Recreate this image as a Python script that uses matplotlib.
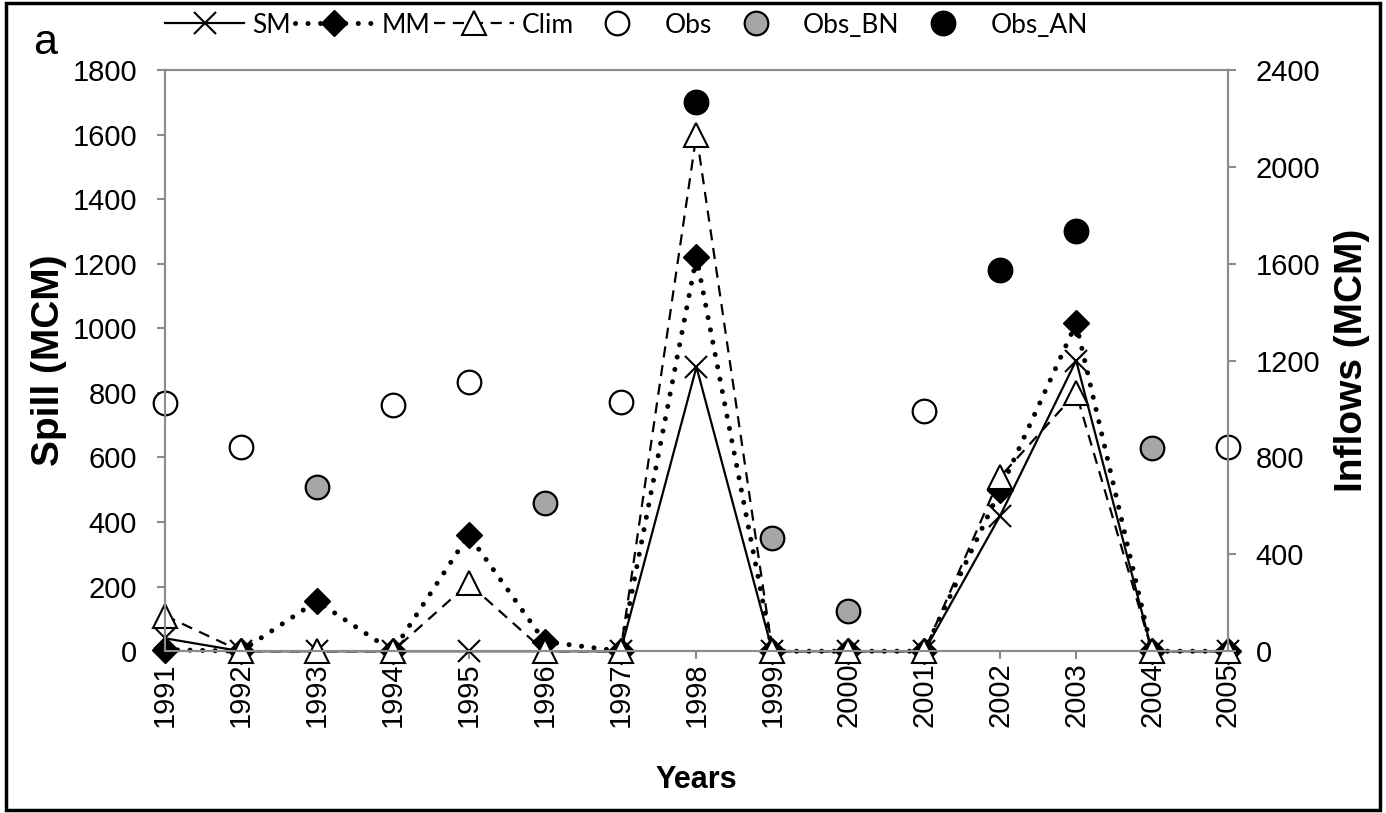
import matplotlib
matplotlib.use("Agg")
import matplotlib.pyplot as plt
from matplotlib.patches import Rectangle

# Spill (MCM) per year for the three forecast schemes
years = [1991, 1992, 1993, 1994, 1995, 1996, 1997, 1998, 1999, 2000,
         2001, 2002, 2003, 2004, 2005]
sm = [40, 0, 0, 0, 0, 0, 0, 880, 0, 0, 0, 420, 900, 0, 0]
mm = [5, 0, 155, 0, 360, 30, 0, 1220, 0, 0, 0, 500, 1015, 0, 0]
clim = [110, 0, 0, 0, 210, 0, 0, 1600, 0, 0, 0, 540, 800, 0, 0]

# Observed inflows (MCM), split by category
obs_years = [1991, 1992, 1994, 1995, 1997, 2001, 2005]
obs = [1025, 845, 1015, 1113, 1030, 990, 845]
bn_years = [1993, 1996, 1999, 2000, 2004]
obs_bn = [677, 610, 467, 167, 840]
an_years = [1998, 2002, 2003]
obs_an = [2267, 1573, 1733]

GRAY = "#8c8c8c"
plt.rcParams["font.family"] = ["Liberation Sans", "DejaVu Sans"]

fig = plt.figure(figsize=(13.86, 8.13), dpi=100)
ax = fig.add_axes([0.119, 0.199, 0.767, 0.715])
ax2 = ax.twinx()

l1, = ax.plot(years, sm, color="black", lw=1.6, marker="x", ms=16,
              mew=1.5, clip_on=False, zorder=3, label="SM")
l2, = ax.plot(years, mm, color="black", lw=3.6, linestyle=(0, (0.01, 2.5)),
              dash_capstyle="round", marker="D", ms=13, mfc="black",
              clip_on=False, zorder=4, label="MM")
l3, = ax.plot(years, clim, color="black", lw=1.6, linestyle=(0, (5, 3.5)),
              marker="^", ms=17, mfc="white", mew=1.5, clip_on=False,
              zorder=5, label="Clim")

p1, = ax2.plot(obs_years, obs, linestyle="none", marker="o", ms=17,
               mfc="white", mec="black", mew=1.6, clip_on=False, label="Obs")
p2, = ax2.plot(bn_years, obs_bn, linestyle="none", marker="o", ms=17,
               mfc="#a6a6a6", mec="black", mew=1.6, clip_on=False,
               label="Obs_BN")
p3, = ax2.plot(an_years, obs_an, linestyle="none", marker="o", ms=17,
               mfc="black", mec="black", mew=1.6, clip_on=False,
               label="Obs_AN")

ax.set_xlim(1991, 2005)
ax.set_ylim(0, 1800)
ax2.set_ylim(0, 2400)
ax.set_xticks(years)
ax.set_xticklabels([str(y) for y in years], rotation=90)
ax.set_yticks(range(0, 1801, 200))
ax2.set_yticks(range(0, 2401, 400))

for a in (ax, ax2):
    for s in a.spines.values():
        s.set_color(GRAY)
        s.set_linewidth(1.5)
    a.tick_params(axis="both", colors=GRAY, labelcolor="black",
                  labelsize=21, length=6, width=1.5, direction="out")
ax.tick_params(axis="y", pad=14)
ax2.tick_params(axis="y", pad=14)
ax.tick_params(axis="x", pad=2)

ax.set_ylabel("Spill (MCM)", fontsize=28, fontweight="bold")
ax.yaxis.set_label_coords(-0.092, 0.5)
ax2.set_ylabel("Inflows (MCM)", fontsize=28, fontweight="bold")
ax2.yaxis.set_label_coords(1.1, 0.5)
ax.set_xlabel("Years", fontsize=22, fontweight="bold", labelpad=27)

fig.legend(handles=[l1, l2, l3, p1, p2, p3], ncol=6, frameon=False,
           loc="center", bbox_to_anchor=(0.452, 0.969),
           prop={"family": ["Lato", "DejaVu Sans"], "size": 19},
           handlelength=3.0, handletextpad=0.3, columnspacing=0.15,
           numpoints=1)

fig.text(0.024, 0.947, "a", fontsize=31, ha="left", va="center")

fig.patches.append(Rectangle((0.004, 0.004), 0.992, 0.992,
                             transform=fig.transFigure, fill=False,
                             edgecolor="black", lw=2.5))

fig.savefig("out.png", dpi=100)
